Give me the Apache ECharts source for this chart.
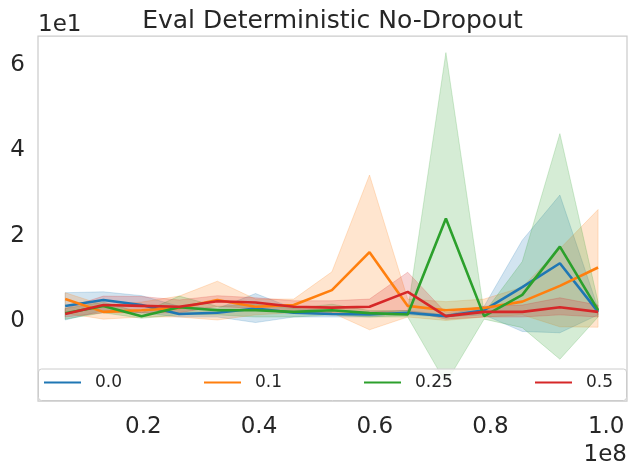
<!DOCTYPE html>
<html>
<head>
<meta charset="utf-8">
<script src="https://cdn.jsdelivr.net/npm/echarts@6/dist/echarts.min.js"></script>
<style>
html,body{margin:0;padding:0;background:#fff;}
#chart{width:634px;height:474px;}
</style>
</head>
<body>
<div id="chart"></div>
<script>
// x: training steps
const steps = [6.5e6, 13.1e6, 19.7e6, 26.2e6, 32.8e6, 39.4e6, 46.0e6, 52.6e6, 59.1e6, 65.7e6, 72.3e6, 78.9e6, 85.5e6, 92.0e6, 98.6e6];

const seriesNames = ['0.0', '0.1', '0.25', '0.5'];
const colors = ['#1f77b4', '#ff7f0e', '#2ca02c', '#d62728'];

// means
const mean00  = [2.6, 4.0, 2.8, 0.7, 1.0, 2.0, 1.0, 0.7, 0.6, 1.0, 0.2, 1.6, 7.0, 12.6, 1.2];
const mean01  = [4.2, 1.2, 1.6, 2.1, 4.0, 2.4, 2.8, 6.3, 15.2, 2.6, 1.6, 2.1, 3.6, 7.3, 11.6];
const mean025 = [0.9, 2.6, 0.2, 2.3, 1.6, 1.6, 1.2, 1.6, 0.9, 0.6, 23.1, 0.2, 5.2, 16.5, 1.6];
const mean05  = [0.7, 2.8, 2.6, 2.4, 3.7, 3.4, 2.4, 2.2, 2.4, 5.9, 0.2, 1.2, 1.2, 2.3, 1.2];

// lower bounds of bands
const low00  = [-0.7, 1.5, 1.0, 0.0, 0.0, -1.3, 0.0, 0.0, 0.0, 0.5, 0.0, 0.5, -3.4, -3.7, 0.5];
const low01  = [0.9, -0.5, 0.0, 0.0, -0.7, 0.5, 1.0, 1.0, -3.0, 0.0, -0.8, 0.0, 0.5, -2.3, -2.4];
const low025 = [-0.5, 1.0, -0.3, 0.5, 0.5, 0.0, 0.0, 0.5, 0.0, 0.0, -15.5, -0.5, -2.5, -9.9, 0.0];
const low05  = [0.0, 1.0, 1.0, 1.0, 2.5, 2.0, 1.0, 0.5, 1.0, 1.5, -0.5, 0.0, 0.0, 0.5, 0.0];

// upper bounds of bands
const high00  = [5.7, 5.9, 5.0, 2.5, 2.0, 5.5, 2.0, 1.5, 1.2, 1.5, 0.5, 2.5, 18.0, 28.6, 2.0];
const high01  = [5.7, 2.8, 3.5, 4.9, 8.4, 4.2, 4.2, 10.6, 33.3, 4.2, 3.6, 4.2, 7.0, 16.0, 25.2];
const high025 = [2.0, 3.5, 1.0, 4.9, 2.5, 3.0, 2.0, 3.0, 1.5, 1.5, 62.0, 1.0, 13.0, 43.0, 3.5];
const high05  = [2.0, 4.9, 4.8, 4.0, 5.0, 4.5, 3.8, 3.8, 4.2, 10.5, 1.0, 2.5, 2.8, 4.5, 2.8];

// tick labels
const xTicks = [2e7, 4e7, 6e7, 8e7, 1e8];
const xTickLabels = ['0.2', '0.4', '0.6', '0.8', '1.0'];
const yTicks = [0, 20, 40, 60];
const yTickLabels = ['0', '2', '4', '6'];

const means = [mean00, mean01, mean025, mean05];
const lows = [low00, low01, low025, low05];
const highs = [high00, high01, high025, high05];

const FONT = '"DejaVu Sans", sans-serif';
const TXT = '#262626';

function rgba(hex, a) {
  const r = parseInt(hex.slice(1,3),16), g = parseInt(hex.slice(3,5),16), b = parseInt(hex.slice(5,7),16);
  return 'rgba(' + r + ',' + g + ',' + b + ',' + a + ')';
}

const series = [];
seriesNames.forEach((nm, k) => {
  const lo = lows[k], hi = highs[k];
  series.push({
    type: 'custom',
    name: nm + ' band',
    z: 1,
    silent: true,
    clip: true,
    data: steps.map((x, i) => [x, lo[i], hi[i]]),
    encode: { x: 0, y: [1, 2] },
    renderItem: function (params, api) {
      if (params.dataIndex !== 0) return null;
      const pts = [];
      for (let i = 0; i < steps.length; i++) pts.push(api.coord([steps[i], hi[i]]));
      for (let i = steps.length - 1; i >= 0; i--) pts.push(api.coord([steps[i], lo[i]]));
      return {
        type: 'polygon',
        shape: { points: pts },
        style: { fill: rgba(colors[k], 0.2), stroke: rgba(colors[k], 0.2), lineWidth: 1 }
      };
    }
  });
});
seriesNames.forEach((nm, k) => {
  series.push({
    type: 'line',
    name: nm,
    z: 2,
    data: steps.map((x, i) => [x, means[k][i]]),
    showSymbol: false,
    symbol: 'none',
    lineStyle: { color: colors[k], width: 2.6 },
    itemStyle: { color: colors[k] },
    animation: false
  });
});

const legendLeft = [44, 204, 364, 535];
const legends = seriesNames.map((nm, k) => ({
  data: [nm],
  left: legendLeft[k],
  top: 374,
  padding: 0,
  z: 10,
  icon: 'rect',
  itemWidth: 37,
  itemHeight: 2.2,
  selectedMode: false,
  textStyle: { fontFamily: FONT, fontSize: 17, color: TXT, padding: [0, 0, 0, 9] }
}));

const option = {
  animation: false,
  backgroundColor: '#ffffff',
  grid: {
    left: 38, right: 7, top: 36, bottom: 73,
    show: true, borderColor: '#cccccc', borderWidth: 1.25,
    backgroundColor: 'transparent'
  },
  xAxis: {
    type: 'value',
    min: 1.8e6, max: 103.6e6,
    axisLine: { show: false },
    axisTick: { show: false },
    splitLine: { show: false },
    axisLabel: {
      customValues: xTicks,
      formatter: v => xTickLabels[xTicks.indexOf(v)] ?? (v / 1e8).toFixed(1),
      fontFamily: FONT, fontSize: 23, color: TXT, margin: 15
    }
  },
  yAxis: {
    type: 'value',
    min: -19.7, max: 65.9,
    axisLine: { show: false },
    axisTick: { show: false },
    splitLine: { show: false },
    axisLabel: {
      customValues: yTicks,
      formatter: v => '{p|' + (yTickLabels[yTicks.indexOf(v)] ?? String(v / 10)) + '}',
      fontFamily: FONT, fontSize: 23, color: TXT, margin: 13,
      rich: { p: { fontFamily: FONT, fontSize: 23, color: TXT, padding: [8, 0, 0, 0] } }
    }
  },
  legend: legends,
  graphic: [
    {
      type: 'rect', z: 9,
      shape: { x: 38.5, y: 369, width: 588, height: 31.5, r: 3 },
      style: { fill: 'rgba(255,255,255,0.8)', stroke: '#cccccc', lineWidth: 1 }
    },
    {
      type: 'text', z: 10, x: 332.5, y: 21.5,
      style: { text: 'Eval Deterministic No-Dropout', fontFamily: FONT, fontSize: 25, fill: TXT, textAlign: 'center', textVerticalAlign: 'middle' }
    },
    {
      type: 'text', z: 10, x: 38, y: 25,
      style: { text: '1e1', fontFamily: FONT, fontSize: 23, fill: TXT, textAlign: 'left', textVerticalAlign: 'middle' }
    },
    {
      type: 'text', z: 10, x: 627, y: 455,
      style: { text: '1e8', fontFamily: FONT, fontSize: 23, fill: TXT, textAlign: 'right', textVerticalAlign: 'middle' }
    }
  ],
  series: series
};

const chart = echarts.init(document.getElementById('chart'), null, { renderer: 'canvas' });
chart.setOption(option);
</script>
</body>
</html>
